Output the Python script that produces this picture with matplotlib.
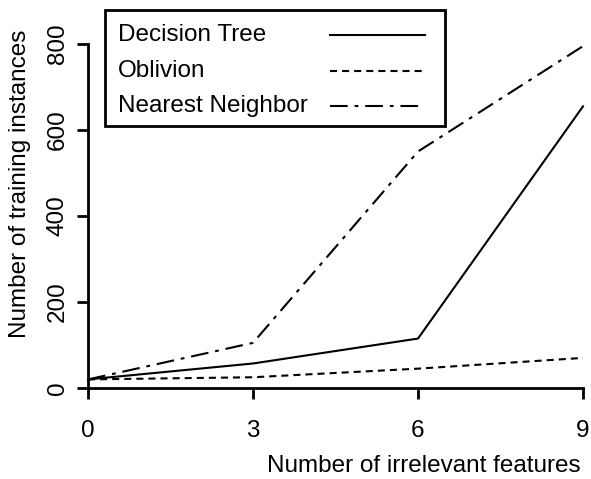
import matplotlib
matplotlib.use("Agg")
import matplotlib.pyplot as plt
from matplotlib.lines import Line2D
from matplotlib.patches import Rectangle

# values
n_irrelevant = [0, 3, 6, 9]
decision_tree = [20, 57, 115, 655]
oblivion = [20, 25, 45, 70]
nearest_neighbor = [20, 105, 550, 795]
series_names = ["Decision Tree", "Oblivion", "Nearest Neighbor"]
x_ticks = [0, 3, 6, 9]
y_ticks = [0, 200, 400, 600, 800]

plt.rcParams['font.family'] = ['Liberation Sans', 'DejaVu Sans']

W, H = 591, 479
fig = plt.figure(figsize=(W / 100, H / 100), dpi=100)


def fx(px):
    return px / W


def fy(py):
    return 1 - py / H


ax = fig.add_axes([fx(88), fy(388), fx(583) - fx(88), fy(44) - fy(388)])
ax.set_xlim(0, 9)
ax.set_ylim(0, 800)

lw = 1.5
fs = 17.5
styles = [
    dict(linestyle='-'),
    dict(linestyle=(0, (3.4, 2.4))),
    dict(linestyle=(0, (8.5, 3.3, 1.8, 3.3))),
]
all_series = [decision_tree, oblivion, nearest_neighbor]
for ys, st in zip(all_series, styles):
    ax.plot(n_irrelevant, ys, color='black', lw=lw, clip_on=False, **st)

for side in ['top', 'right']:
    ax.spines[side].set_visible(False)
for side in ['left', 'bottom']:
    ax.spines[side].set_linewidth(2)

ax.set_xticks(x_ticks)
ax.set_yticks(y_ticks)
ax.tick_params(axis='both', direction='out', length=8, width=2, labelsize=fs)
ax.tick_params(axis='x', pad=15)
ax.tick_params(axis='y', pad=6)
for lab in ax.get_yticklabels():
    lab.set_rotation(90)
    lab.set_va('center')

fig.text(fx(424), fy(466), "Number of irrelevant features", fontsize=fs,
         ha='center', va='center')
fig.text(fx(20), fy(184), "Number of training instances", fontsize=fs,
         rotation=90, ha='center', va='center')

# legend box drawn by hand (text left, line sample right)
fig.patches.append(Rectangle((fx(105), fy(126)), fx(445) - fx(105), fy(10) - fy(126),
                             transform=fig.transFigure, fill=False, lw=2,
                             edgecolor='black'))
row_y = [35, 71, 106]
for name, ry, st in zip(series_names, row_y, styles):
    fig.text(fx(118), fy(ry), name, fontsize=fs, ha='left', va='center')
    fig.lines.append(Line2D([fx(330), fx(425)], [fy(ry), fy(ry)],
                            transform=fig.transFigure, color='black', lw=lw, **st))

fig.savefig("out.png", dpi=100)
